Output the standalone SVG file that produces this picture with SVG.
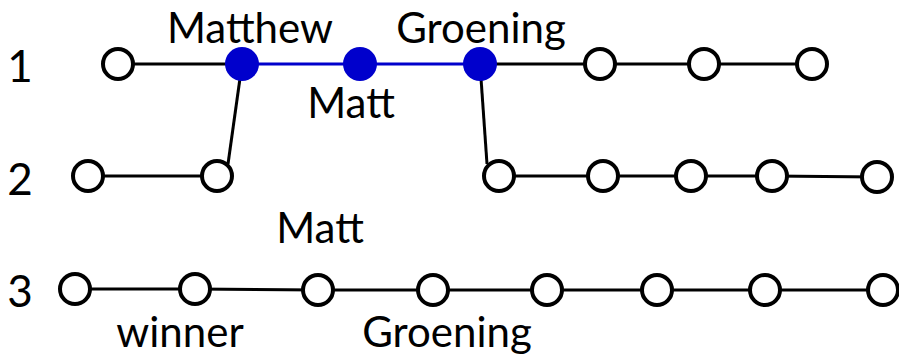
<svg xmlns="http://www.w3.org/2000/svg" width="899" height="359" viewBox="0 0 899 359">
<style>
.e{stroke:#000;stroke-width:3;fill:none}
.b{stroke:#0000cc;stroke-width:3;fill:none}
.n{fill:#fff;stroke:#000;stroke-width:4}
.f{fill:#0000cc;stroke:none}
text{font-family:Lato,"Open Sans","Liberation Sans",sans-serif;font-size:42px;fill:#000;text-anchor:middle}
.r{font-size:44px}
</style>
<rect width="899" height="359" fill="#fff"/>
<g id="connectors">
<line class="e" x1="118" y1="64" x2="242" y2="64"/>
<line class="b" x1="242" y1="64" x2="480" y2="64"/>
<line class="e" x1="480" y1="64" x2="812" y2="64"/>
<line class="e" x1="242" y1="64" x2="228" y2="164"/>
<line class="e" x1="480" y1="64" x2="487" y2="164"/>
<line class="e" x1="88" y1="176" x2="217" y2="176"/>
<polyline class="e" points="499,176 603,176 691,176 772,176 877,177"/>
<polyline class="e" points="75,289 195,289 318,290 433,290 547,290 657,290 765,290 883,290"/>
</g>
<g id="row1">
<circle class="n" cx="118" cy="64" r="15"/>
<circle class="f" cx="242" cy="64" r="17"/>
<circle class="f" cx="360" cy="64" r="17"/>
<circle class="f" cx="480" cy="64" r="17"/>
<circle class="n" cx="600" cy="64" r="15"/>
<circle class="n" cx="704" cy="64" r="15"/>
<circle class="n" cx="812" cy="64" r="15"/>
</g>
<g id="row2">
<circle class="n" cx="88" cy="176" r="15"/>
<circle class="n" cx="217" cy="176" r="15"/>
<circle class="n" cx="499" cy="176" r="15"/>
<circle class="n" cx="603" cy="176" r="15"/>
<circle class="n" cx="691" cy="176" r="15"/>
<circle class="n" cx="772" cy="176" r="15"/>
<circle class="n" cx="877" cy="177" r="15"/>
</g>
<g id="row3">
<circle class="n" cx="75" cy="289" r="15"/>
<circle class="n" cx="195" cy="289" r="15"/>
<circle class="n" cx="318" cy="290" r="15"/>
<circle class="n" cx="433" cy="290" r="15"/>
<circle class="n" cx="547" cy="290" r="15"/>
<circle class="n" cx="657" cy="290" r="15"/>
<circle class="n" cx="765" cy="290" r="15"/>
<circle class="n" cx="883" cy="290" r="15"/>
</g>
<g id="labels">
<text class="r" x="20" y="82">1</text>
<text class="r" x="20" y="195">2</text>
<text class="r" x="20" y="307">3</text>
<text x="250" y="43">Matthew</text>
<text x="481" y="43">Groening</text>
<text x="351" y="118">Matt</text>
<text x="320" y="243">Matt</text>
<text x="180" y="347">winner</text>
<text x="447" y="347">Groening</text>
</g>
</svg>
